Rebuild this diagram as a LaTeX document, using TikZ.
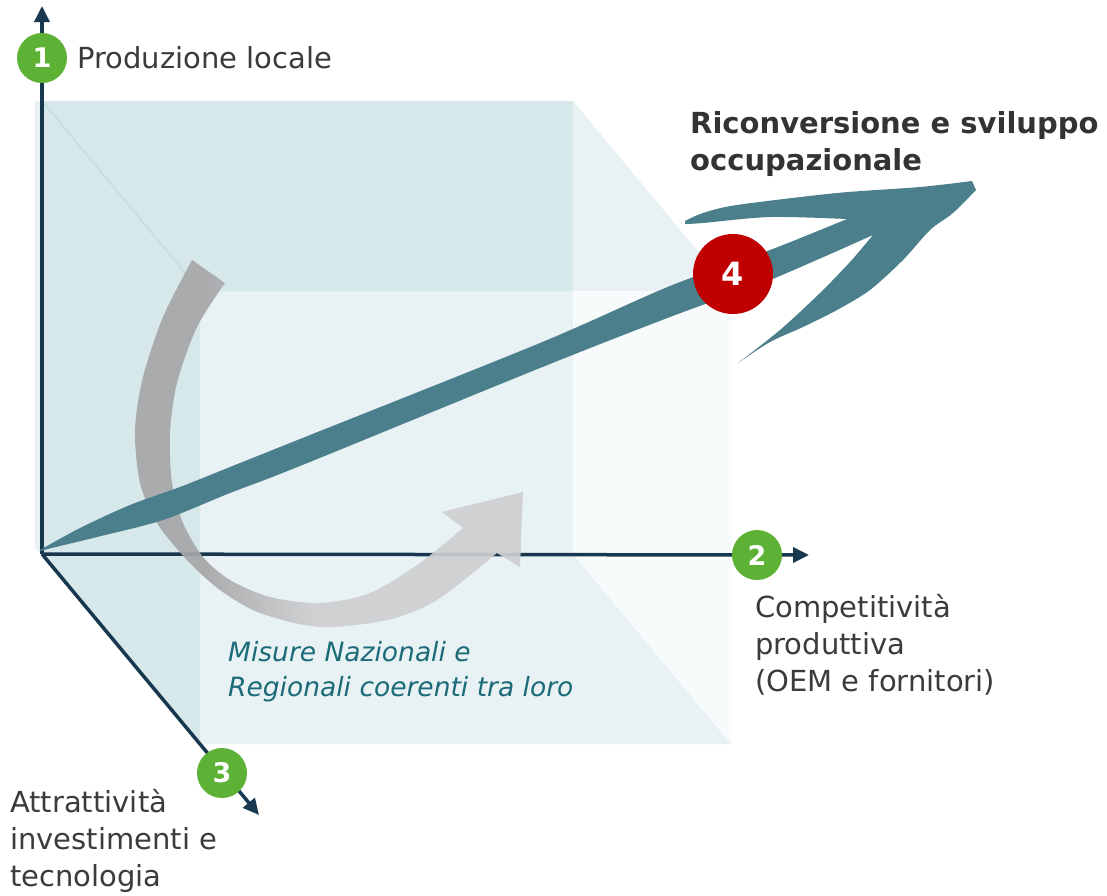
\documentclass[tikz,border=0pt]{standalone}
\usepackage{fontspec}
\setmainfont{DejaVu Sans}
\usetikzlibrary{positioning,arrows.meta}

\definecolor{axisnavy}{HTML}{17384F}
\definecolor{dotgreen}{HTML}{5DB135}
\definecolor{dotred}{HTML}{C00000}
\definecolor{arrowteal}{HTML}{4A7F8B}
\definecolor{cubedark}{HTML}{D7E8EB}
\definecolor{cubemid}{HTML}{E8F1F3}
\definecolor{cubelight}{HTML}{F8FBFC}
\definecolor{cubeedge}{HTML}{C6DEE2}
\definecolor{txtgray}{HTML}{3B3B3B}
\definecolor{titlegray}{HTML}{333333}
\definecolor{txtteal}{HTML}{1B6B79}
\definecolor{arcdark}{HTML}{A6A6A8}
\definecolor{arclight}{HTML}{CECFD1}

\pgfdeclarehorizontalshading{grayarc}{100bp}{color(0bp)=(arcdark); color(34bp)=(arcdark); color(48bp)=(arclight); color(100bp)=(arclight)}

\begin{document}
\begin{tikzpicture}[x=1pt,y=-1pt,
axisline/.style={draw=axisnavy, line width=3.5pt, -{Triangle[length=16pt,width=15pt]}},
numdot/.style={circle, fill=dotgreen, text=white, inner sep=0pt, minimum size=50pt, font=\bfseries\fontsize{27}{27}\selectfont},
lbl/.style={text=txtgray, inner sep=0pt, align=left, font=\fontsize{29}{37}\selectfont}
]
\useasboundingbox (0,0) rectangle (1107,895);

% cube
\fill[cubemid] (35,101) -- (573,101) -- (731,291) -- (731,744) -- (200,744) -- (42,554) -- (35,548) -- cycle;
\fill[cubelight] (573,291) -- (731,291) -- (731,744) -- (573,554) -- cycle;
\fill[cubedark] (42,101) -- (573,101) -- (573,291) -- (200,291) -- (200,744) -- (42,554) -- cycle;
\draw[cubeedge, line width=1.5pt] (42,101) -- (200,291);

% axes
\coordinate (o) at (42,554);
\coordinate (ytip) at (42,6);
\coordinate (xtip) at (809,555);
\coordinate (ztip) at (259,815);
\draw[axisline] (o) -- (ytip);
\draw[axisline] (o) -- (xtip);
\draw[axisline] (o) -- (ztip);

% grey turning arrow
\shade[shading=grayarc, opacity=0.92] (225,283) -- (192,260)
  -- plot[smooth] coordinates {(192,260) (163,317) (143,377) (135,430) (140,483) (157,523) (187,560) (220,590) (260,613) (320,627) (387,620) (437,600) (497,553)}
  -- (520,567) -- (523,492) -- (442,512) -- (463,528)
  -- plot[smooth] coordinates {(463,528) (420,563) (370,593) (320,603) (270,597) (230,580) (203,557) (183,523) (172,483) (170,433) (177,383) (197,327) (225,283)}
  -- cycle;

% teal brush arrow
\fill[arrowteal] plot[smooth] coordinates {(40,550) (80,528) (130,505) (180,487) (230,467) (300,439) (540,343) (670,286) (770,250) (847,219)}
  -- plot[smooth] coordinates {(847,219) (770,217) (703,223) (685,224)}
  -- plot[smooth] coordinates {(685,221) (703,213) (737,205) (837,193) (920,187) (972,181)}
  -- (976,190)
  -- plot[smooth] coordinates {(976,190) (953,213) (930,230) (903,260) (870,290) (837,310) (803,327) (770,342) (738,363)}
  -- plot[smooth] coordinates {(738,363) (780,330) (820,293) (850,262) (873,235)}
  -- plot[smooth] coordinates {(873,235) (770,280) (670,317) (540,368) (300,466) (230,493) (163,520) (97,537) (60,546) (40,551)}
  -- cycle;

% markers
\node[numdot] (n1) at (42,58) {1};
\node[numdot] (n2) at (757,555) {2};
\node[numdot] (n3) at (222,773) {3};
\node[numdot, fill=dotred, minimum size=80pt, font=\bfseries\fontsize{32}{32}\selectfont] (n4) at (733,274) {4};

% labels (base = last line)
\node[lbl, right=10pt of n1] (prod) {Produzione locale};
\node[lbl, anchor=base west] (comp) at (755,691) {Competitività\\produttiva\\(OEM e fornitori)};
\node[lbl, anchor=base west] (attr) at (10,886) {Attrattività\\investimenti e\\tecnologia};
\node[lbl, anchor=base west, text=titlegray, font=\bfseries\fontsize{29}{37}\selectfont] (riconv) at (690,170) {Riconversione e sviluppo\\occupazionale};
\node[lbl, anchor=base west, text=txtteal, font=\itshape\fontsize{26.5}{35}\selectfont] (misure) at (228,696) {Misure Nazionali e\\Regionali coerenti tra loro};
\end{tikzpicture}
\end{document}
